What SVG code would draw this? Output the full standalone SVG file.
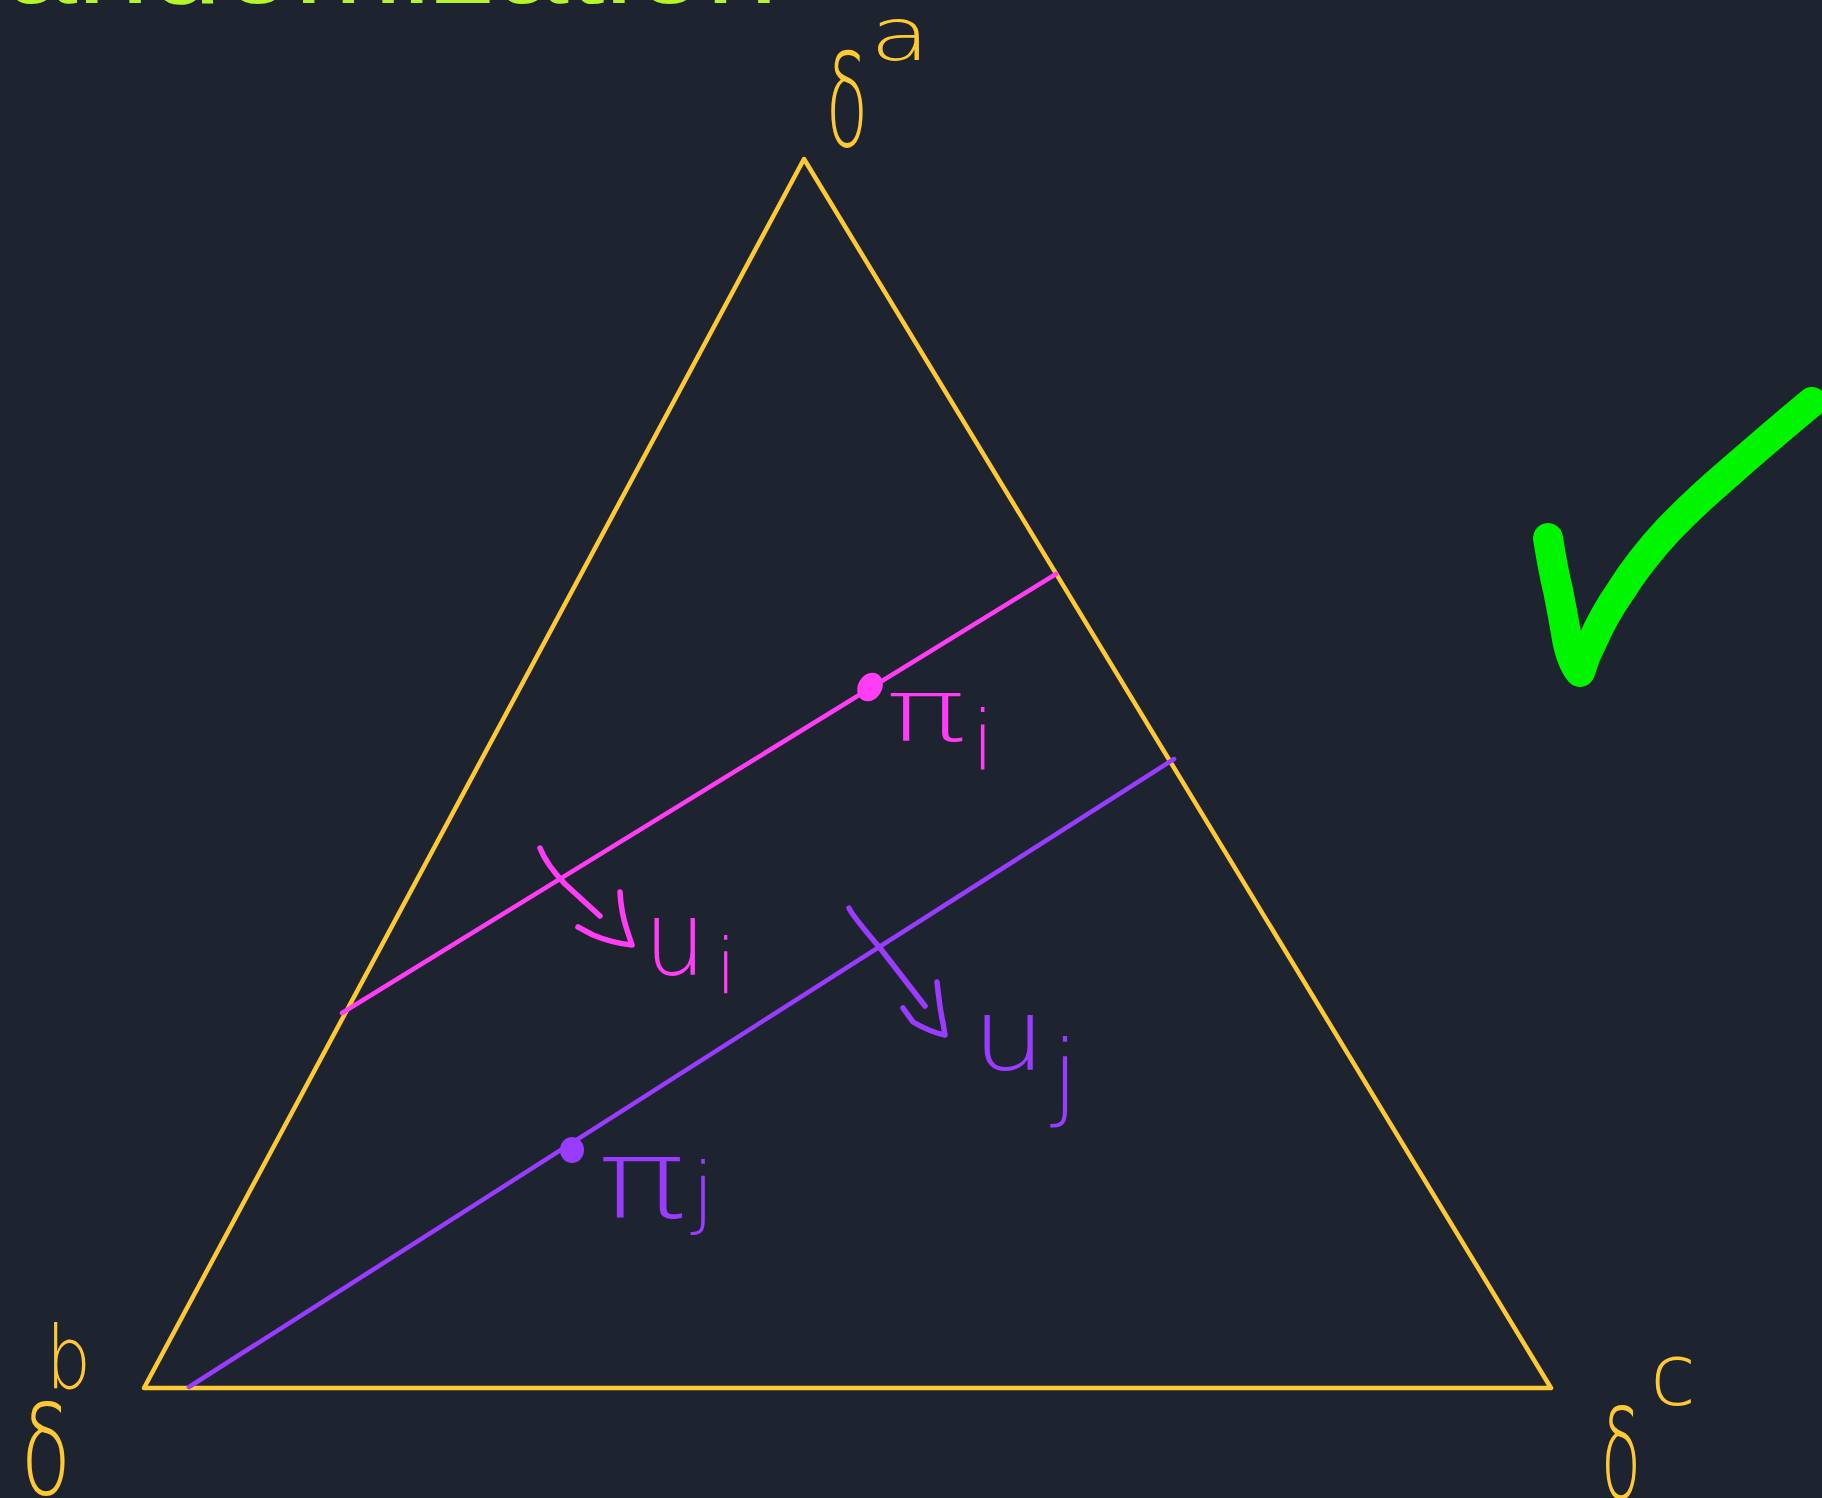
<svg xmlns="http://www.w3.org/2000/svg" width="1822" height="1498" viewBox="0 0 1822 1498">
<style>
.y{stroke:#ffc933;fill:none;stroke-width:4.5;stroke-linecap:round;stroke-linejoin:round}
.m{stroke:#ff3df5;fill:none;stroke-width:4.5;stroke-linecap:round;stroke-linejoin:round}
.p{stroke:#9a3cff;fill:none;stroke-width:4.5;stroke-linecap:round;stroke-linejoin:round}
.hm{stroke:#ff3df5;fill:none;stroke-width:5.5;stroke-linecap:round;stroke-linejoin:round}
.hp{stroke:#9a3cff;fill:none;stroke-width:5.5;stroke-linecap:round;stroke-linejoin:round}
.t{font-family:"DejaVu Sans","Liberation Sans",sans-serif;font-weight:200}
.ty{fill:#ffc933}
.tm{fill:#ff3df5}
.tp{fill:#9a3cff}
</style>
<rect width="1822" height="1498" fill="#1e2330"/>
<text id="title" x="778" y="3" text-anchor="end" font-family="Liberation Sans, Arial, sans-serif" font-size="130" fill="#b4f62a">Randomization</text>
<g id="simplex">
<path class="y" d="M144,1388 L804,159 L1551,1388 Z"/>
</g>
<g id="connectors">
<path class="m" d="M342,1013 L1056,574"/>
<path class="p" d="M189,1387 L1174,759"/>
<path class="hm" d="M540,848 Q546,864 565,884 L600,916"/>
<path class="hm" d="M620,892 Q621,912 627,930 L632,945 Q612,943 593,935 L578,927"/>
<path class="hp" d="M849,908 Q851,914 880,948 L925,1006"/>
<path class="hp" d="M937,982 Q940,1010 943,1023 L945,1035 Q930,1032 913,1022 L903,1008"/>
</g>
<g id="point-i">
<ellipse cx="870" cy="687" rx="12" ry="15" transform="rotate(30 870 687)" fill="#ff3df5"/>
<text class="t tm" x="886" y="741" font-size="88" textLength="80" lengthAdjust="spacingAndGlyphs">π</text>
<text class="t tm" x="972" y="769" font-size="82" textLength="22" lengthAdjust="spacingAndGlyphs">i</text>
</g>
<g id="point-j">
<ellipse cx="572" cy="1150" rx="12" ry="13" fill="#9a3cff"/>
<text class="t tp" x="598" y="1217" font-size="110" textLength="88" lengthAdjust="spacingAndGlyphs">π</text>
<text class="t tp" x="692" y="1219" font-size="78" textLength="22" lengthAdjust="spacingAndGlyphs">j</text>
</g>
<g id="label-ui">
<text class="t tm" x="644" y="975" font-size="104" textLength="62" lengthAdjust="spacingAndGlyphs">u</text>
<text class="t tm" x="716" y="993" font-size="76" textLength="20" lengthAdjust="spacingAndGlyphs">i</text>
</g>
<g id="label-uj">
<text class="t tp" x="972" y="1070" font-size="100" textLength="74" lengthAdjust="spacingAndGlyphs">u</text>
<text class="t tp" x="1052" y="1108" font-size="95" textLength="26" lengthAdjust="spacingAndGlyphs">j</text>
</g>
<g id="vertex-a">
<text class="t ty" x="826" y="146" font-size="130" textLength="42" lengthAdjust="spacingAndGlyphs">δ</text>
<text class="t ty" x="870" y="60" font-size="73" textLength="60" lengthAdjust="spacingAndGlyphs">a</text>
</g>
<g id="vertex-b">
<text class="t ty" x="21" y="1494" font-size="125" textLength="50" lengthAdjust="spacingAndGlyphs">δ</text>
<text class="t ty" x="46" y="1388" font-size="88" textLength="45" lengthAdjust="spacingAndGlyphs">b</text>
</g>
<g id="vertex-c">
<text class="t ty" x="1601" y="1498" font-size="125" textLength="40" lengthAdjust="spacingAndGlyphs">δ</text>
<text class="t ty" x="1650" y="1405" font-size="86" textLength="46" lengthAdjust="spacingAndGlyphs">c</text>
</g>
<g id="checkmark">
<path d="M1548,538 Q1553,570 1558,590 Q1562,610 1566,633 Q1570,660 1580,672 Q1585,655 1593,640 Q1604,615 1620,592 Q1640,560 1668,530 Q1695,502 1730,472 Q1770,437 1800,412 L1812,402" fill="none" stroke="#00f500" stroke-width="30" stroke-linecap="round" stroke-linejoin="round"/>
</g>
</svg>
